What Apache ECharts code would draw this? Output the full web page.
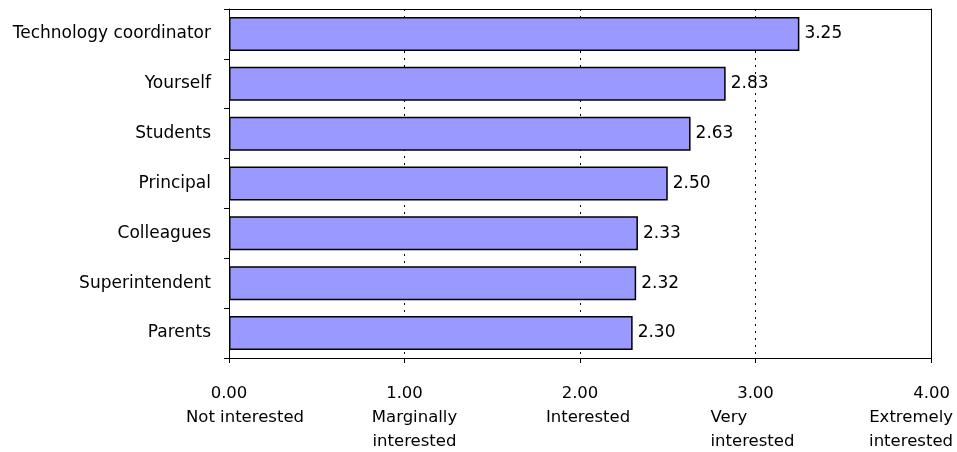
<!DOCTYPE html>
<html><head><meta charset="utf-8">
<script src="https://cdn.jsdelivr.net/npm/echarts@6/dist/echarts.min.js"></script>
<style>html,body{margin:0;padding:0;background:#fff}#c{width:957px;height:452px}</style>
</head><body><div id="c"></div>
<script>
const categories = ["Technology coordinator","Yourself","Students","Principal","Colleagues","Superintendent","Parents"];
const values = [3.25, 2.83, 2.63, 2.50, 2.33, 2.32, 2.30];
const tickNumbers = ["0.00","1.00","2.00","3.00","4.00"];
const tickTexts = [["Not interested"],["Marginally","interested"],["Interested"],["Very","interested"],["Extremely","interested"]];

const font = "DejaVu Sans";
const fs = 16.5;
function rs(extra) {
  return Object.assign({fontFamily: font, fontSize: fs, color: '#000', lineHeight: 24}, extra);
}
const chart = echarts.init(document.getElementById('c'));
chart.setOption({
  animation: false,
  grid: {left: 229, right: 26, top: 9, bottom: 94, outerBoundsMode: 'none', containLabel: false},
  xAxis: [{
    type: 'value', min: 0, max: 4, interval: 1, position: 'bottom',
    axisLine: {show: true, lineStyle: {color: '#000', width: 1}},
    axisTick: {show: true, length: 5, lineStyle: {color: '#000'}},
    splitLine: {show: true, lineStyle: {color: '#000', type: [2, 5], width: 1}},
    axisLabel: {
      margin: 24, color: '#000', fontFamily: font, fontSize: fs, lineHeight: 24,
      hideOverlap: false, showMaxLabel: true, showMinLabel: true, alignMaxLabel: 'right',
      formatter: (v) => {
        const i = Math.round(v);
        const lines = tickTexts[i].map((t, k) => '{t' + i + (k === 0 ? 'a' : 'b') + '|' + t + '}');
        return ['{n' + i + '|' + tickNumbers[i] + '}'].concat(lines).join('\n');
      },
      rich: {
        n0: rs({align: 'center'}), t0a: rs({align: 'center', padding: [0, 0, 0, 32]}),
        n1: rs({align: 'center'}), t1a: rs({align: 'center', padding: [0, 0, 0, 20]}), t1b: rs({align: 'center', padding: [0, 0, 0, 20]}),
        n2: rs({align: 'center'}), t2a: rs({align: 'center', padding: [0, 0, 0, 16]}),
        n3: rs({align: 'center'}), t3a: rs({align: 'left'}), t3b: rs({align: 'center', padding: [0, 6, 0, 0]}),
        n4: rs({align: 'right', padding: [0, -19, 0, 0]}), t4a: rs({align: 'right', padding: [0, -22, 0, 0]}), t4b: rs({align: 'right', padding: [0, -22, 0, 0]})
      }
    }
  }, {
    type: 'value', min: 0, max: 4, position: 'top',
    axisLine: {show: true, onZero: false, lineStyle: {color: '#000', width: 1}},
    axisTick: {show: false}, axisLabel: {show: false}, splitLine: {show: false}
  }],
  yAxis: [{
    type: 'category', data: categories, inverse: true, position: 'left',
    axisLine: {show: true, lineStyle: {color: '#000', width: 1}},
    axisTick: {show: true, length: 5, lineStyle: {color: '#000'}},
    axisLabel: {margin: 18, color: '#000', fontFamily: font, fontSize: 17}
  }, {
    type: 'category', data: categories, inverse: true, position: 'right',
    axisLine: {show: true, onZero: false, lineStyle: {color: '#000', width: 1}},
    axisTick: {show: false}, axisLabel: {show: false}, splitLine: {show: false}
  }],
  series: [{
    type: 'bar', data: values, barWidth: 34, xAxisIndex: 0, yAxisIndex: 0,
    itemStyle: {color: '#9999FF', borderColor: '#000', borderWidth: 1.5},
    label: {show: true, position: 'right', distance: 5, color: '#000', fontFamily: font, fontSize: 17,
      formatter: (p) => p.value.toFixed(2)}
  }]
});
</script></body></html>
